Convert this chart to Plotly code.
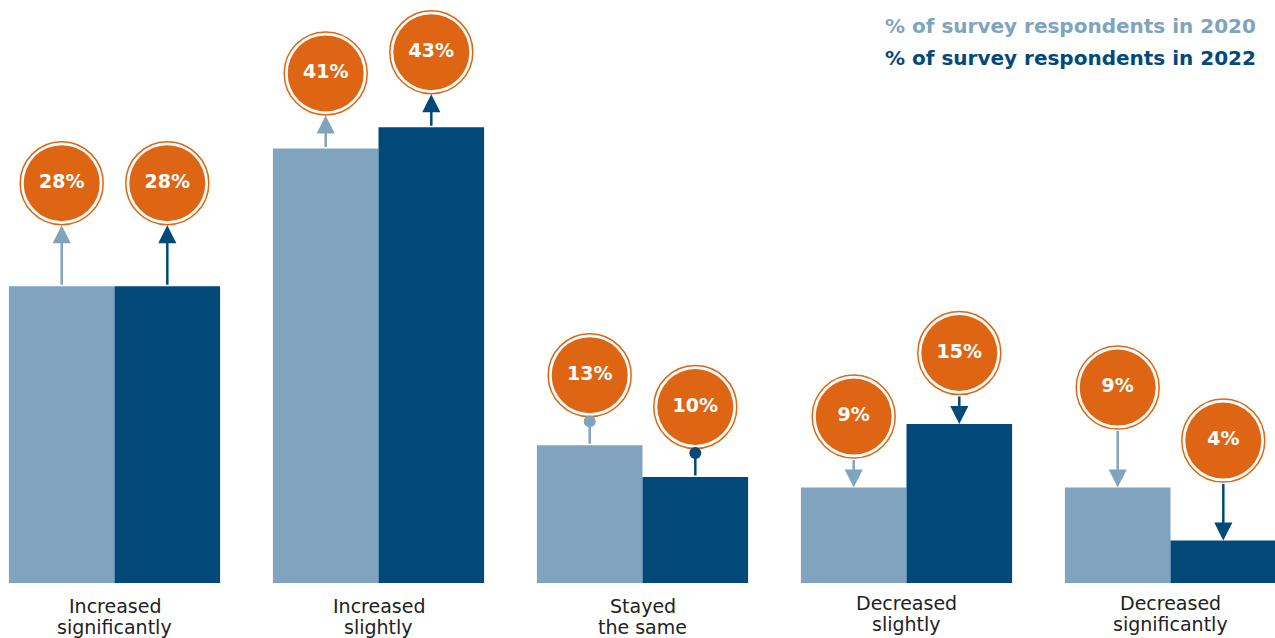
import plotly.graph_objects as go

categories = ["Increased<br>significantly", "Increased<br>slightly", "Stayed<br>the same",
              "Decreased<br>slightly", "Decreased<br>significantly"]
pct_2020 = [28, 41, 13, 9, 9]
pct_2022 = [28, 43, 10, 15, 4]
series_names = ["% of survey respondents in 2020", "% of survey respondents in 2022"]
marker_kind = ["up", "up", "dot", "down", "down"]

# style / layout
C_LIGHT = "#80A4BD"
C_DARK = "#02497A"
C_ORANGE = "#DE6514"
FONT = "DejaVu Sans"
W, H = 1275, 638
BOTTOM = 55
PXU = 10.6                      # pixels per percentage point
bubble_gap_px = [103, 75, 70, 71, 100]   # bubble centre above bar top
label_line1_px = [606, 606, 606, 603, 603]  # y of first label line (from top)
LABEL_LINE_SPACING = 21
R_OUT = 42
X0_PX = 114.5
PITCH = 264
xr = [-X0_PX / PITCH, (W - X0_PX) / PITCH]
yr = [0, (H - BOTTOM) / PXU]
PLOT_H = H - BOTTOM

fig = go.Figure()
xs = list(range(len(categories)))
fig.add_trace(go.Bar(x=xs, y=pct_2020, name=series_names[0], marker_color=C_LIGHT,
                     marker_line_width=0))
fig.add_trace(go.Bar(x=xs, y=pct_2022, name=series_names[1], marker_color=C_DARK,
                     marker_line_width=0))

annotations = []
bx, by, btxt = [], [], []
for si, (vals, col) in enumerate([(pct_2020, C_LIGHT), (pct_2022, C_DARK)]):
    off = -0.2 if si == 0 else 0.2
    for i, v in enumerate(vals):
        xc = i + off
        cy = v + bubble_gap_px[i] / PXU
        bottom = cy - R_OUT / PXU
        bx.append(xc); by.append(cy); btxt.append(f"{v}%")
        kind = marker_kind[i]
        base = dict(xref="x", yref="y", axref="x", ayref="y", text="", showarrow=True,
                    arrowcolor=col, arrowwidth=2.5, standoff=0, startstandoff=0)
        if kind == "up":
            annotations.append(dict(base, x=xc, y=bottom, ax=xc, ay=v, arrowhead=2, arrowsize=1.45))
        elif kind == "down":
            annotations.append(dict(base, x=xc, y=v, ax=xc, ay=bottom, arrowhead=2, arrowsize=1.45))
        else:
            annotations.append(dict(base, x=xc, y=bottom - 4 / PXU, ax=xc, ay=v,
                                    arrowhead=6, arrowsize=1.2))

fig.add_trace(go.Scatter(x=bx, y=by, mode="markers", showlegend=False, hoverinfo="skip",
                         marker=dict(size=2 * R_OUT - 1, color="white",
                                     line=dict(color=C_ORANGE, width=1.5)),
                         cliponaxis=False))
fig.add_trace(go.Scatter(x=bx, y=by, mode="markers+text", text=btxt, showlegend=False,
                         hoverinfo="skip", textposition="middle center",
                         textfont=dict(family=FONT, size=19, color="white", weight="bold"),
                         marker=dict(size=2 * R_OUT - 8, color=C_ORANGE, line=dict(width=0)),
                         cliponaxis=False))

# category labels (one annotation per line for tight line spacing)
for i, cat in enumerate(categories):
    for j, line in enumerate(cat.split("<br>")):
        ypx = label_line1_px[i] + j * LABEL_LINE_SPACING
        annotations.append(dict(xref="x", yref="paper", x=i, y=1 - ypx / PLOT_H,
                                xanchor="center", yanchor="middle", showarrow=False,
                                text=line, font=dict(family=FONT, size=19, color="#222222")))

for k, (name, col) in enumerate(zip(series_names, [C_LIGHT, C_DARK])):
    annotations.append(dict(xref="paper", yref="paper", x=1258 / W,
                            y=1 - (26 + 32 * k) / PLOT_H,
                            xanchor="right", yanchor="middle", showarrow=False,
                            text=f"<b>{name}</b>",
                            font=dict(family=FONT, size=20, color=col)))

fig.update_layout(
    width=W, height=H, margin=dict(l=0, r=0, t=0, b=BOTTOM, pad=0),
    paper_bgcolor="white", plot_bgcolor="white",
    barmode="group", bargap=0.2, bargroupgap=0, showlegend=False,
    annotations=annotations,
    xaxis=dict(range=xr, showticklabels=False, showgrid=False, zeroline=False,
               showline=False, ticks=""),
    yaxis=dict(range=yr, visible=False, showgrid=False, zeroline=False),
)
fig.write_html("out.html")
